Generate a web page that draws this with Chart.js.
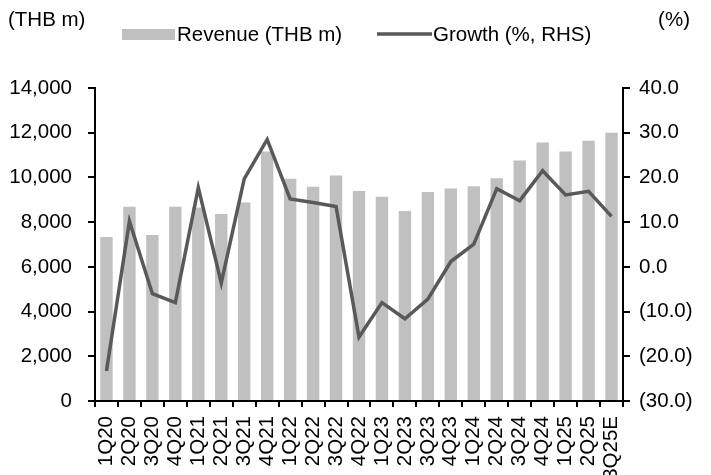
<!DOCTYPE html>
<html>
<head>
<meta charset="utf-8">
<script src="https://cdn.jsdelivr.net/npm/chart.js@4"></script>
<style>
  html, body { margin: 0; padding: 0; background: #fff; }
  #wrap { width: 711px; height: 475px; }
</style>
</head>
<body>
<div id="wrap"><canvas id="chart" width="711" height="475"></canvas></div>
<script>
// quarters on the x axis
const quarters = ["1Q20", "2Q20", "3Q20", "4Q20", "1Q21", "2Q21", "3Q21", "4Q21",
    "1Q22", "2Q22", "3Q22", "4Q22", "1Q23", "2Q23", "3Q23", "4Q23",
    "1Q24", "2Q24", "3Q24", "4Q24", "1Q25", "2Q25", "3Q25E"];

// revenue, THB m (left axis)
const revenue = [7330, 8690, 7430, 8690, 8650, 8360, 8880, 11160,
    9940, 9580, 10090, 9390, 9140, 8500, 9350, 9510,
    9600, 9960, 10760, 11560, 11160, 11640, 12000];

// growth, % (right axis)
const growth = [-23.3, 10.2, -6.0, -8.0, 17.7, -3.6, 19.7, 28.5,
    15.2, 14.4, 13.5, -15.7, -8.0, -11.6, -7.2, 1.2,
    5.1, 17.5, 14.8, 21.5, 16.1, 16.9, 11.3];

const FONT = "'Liberation Sans', Arial, sans-serif";
const FONT_SIZE = 20.5;
const BAR_COLOR = "#c0c0c0";
const LINE_COLOR = "#595959";

// legend + unit labels drawn by hand
const headerPlugin = {
    id: "header",
    afterDraw(chart) {
        const ctx = chart.ctx;
        ctx.save();
        ctx.font = FONT_SIZE + "px " + FONT;
        ctx.fillStyle = "#000";
        ctx.textBaseline = "middle";
        ctx.textAlign = "left";
        ctx.fillText("(THB m)", 8, 20);
        ctx.textAlign = "right";
        ctx.fillText("(%)", 690, 20);

        ctx.textAlign = "left";
        ctx.fillStyle = BAR_COLOR;
        ctx.fillRect(122, 29, 53, 11);
        ctx.fillStyle = "#000";
        ctx.fillText("Revenue (THB m)", 177, 35);

        ctx.strokeStyle = LINE_COLOR;
        ctx.lineWidth = 3.5;
        ctx.beginPath();
        ctx.moveTo(377, 34);
        ctx.lineTo(432, 34);
        ctx.stroke();
        ctx.fillText("Growth (%, RHS)", 433, 35);
        ctx.restore();
    }
};

function fmtPct(v) {
    if (v < 0) return "(" + Math.abs(v).toFixed(1) + ")";
    return v.toFixed(1);
}

new Chart(document.getElementById("chart"), {
    type: "bar",
    data: {
        labels: quarters,
        datasets: [
            {
                type: "line",
                label: "Growth (%, RHS)",
                data: growth,
                yAxisID: "y2",
                borderColor: LINE_COLOR,
                borderWidth: 3.5,
                pointRadius: 0,
                tension: 0,
                order: 0,
            },
            {
                type: "bar",
                label: "Revenue (THB m)",
                data: revenue,
                yAxisID: "y",
                backgroundColor: BAR_COLOR,
                barPercentage: 0.54,
                categoryPercentage: 1.0,
                order: 1,
            },
        ],
    },
    options: {
        responsive: false,
        devicePixelRatio: 1,
        animation: false,
        layout: { padding: { top: 88, bottom: 0, left: 0, right: 0 } },
        plugins: {
            legend: { display: false },
            tooltip: { enabled: false },
        },
        scales: {
            x: {
                grid: {
                    offset: true,
                    drawOnChartArea: false,
                    drawTicks: true,
                    tickLength: 6,
                    color: "#000",
                    lineWidth: 2,
                },
                border: { display: true, color: "#000", width: 2 },
                ticks: {
                    color: "#000",
                    font: { family: FONT, size: FONT_SIZE },
                    maxRotation: 90,
                    minRotation: 90,
                    autoSkip: false,
                    padding: 9,
                },
                afterFit(scale) { scale.height = 74; },
            },
            y: {
                position: "left",
                min: 0,
                max: 14000,
                ticks: {
                    stepSize: 2000,
                    color: "#000",
                    font: { family: FONT, size: FONT_SIZE },
                    padding: 16,
                    callback: (v) => v.toLocaleString("en-US"),
                },
                grid: {
                    drawOnChartArea: false,
                    drawTicks: true,
                    tickLength: 7,
                    color: "#000",
                    lineWidth: 2,
                },
                border: { display: true, color: "#000", width: 2 },
                afterFit(scale) { scale.width = 95; },
            },
            y2: {
                position: "right",
                min: -30,
                max: 40,
                ticks: {
                    stepSize: 10,
                    color: "#000",
                    font: { family: FONT, size: FONT_SIZE },
                    padding: 9,
                    callback: (v) => fmtPct(v),
                },
                grid: {
                    drawOnChartArea: false,
                    drawTicks: true,
                    tickLength: 7,
                    color: "#000",
                    lineWidth: 2,
                },
                border: { display: true, color: "#000", width: 2 },
                afterFit(scale) { scale.width = 88; },
            },
        },
    },
    plugins: [headerPlugin],
});
</script>
</body>
</html>
